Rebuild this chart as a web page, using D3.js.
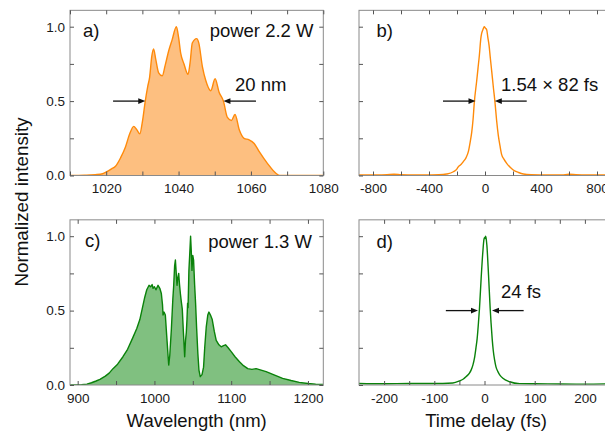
<!DOCTYPE html>
<html>
<head>
<meta charset="utf-8">
<script src="https://cdn.jsdelivr.net/npm/d3@7"></script>
<style>
  html, body { margin: 0; padding: 0; background: #fff; }
  svg { display: block; font-family: "Liberation Sans", Arial, sans-serif; }
</style>
</head>
<body>
<svg id="fig" width="605" height="431"></svg>
<script>
// ---- spectrum at 2.2 W (nm, normalized) ----
const specA_nm = [1010, 1014, 1017, 1019, 1020.2, 1021.5, 1022.5, 1024, 1025.3, 1026.5, 1027.6, 1028.4, 1029.3, 1030, 1030.8, 1031.5, 1032, 1032.6, 1033.1, 1033.7, 1034.5, 1035.5, 1036.3, 1037.3, 1038.2, 1039.4, 1040, 1040.6, 1041.5, 1042.6, 1043.2, 1043.8, 1045, 1045.6, 1046.6, 1047.5, 1048.9, 1050.1, 1051.2, 1052.4, 1053.5, 1054.6, 1055.6, 1056.8, 1058.1, 1059.5, 1060.9, 1062.3, 1064.6, 1066.9, 1068, 1080];
const specA_val = [0, 0.002, 0.006, 0.012, 0.026, 0.045, 0.06, 0.12, 0.19, 0.28, 0.33, 0.31, 0.28, 0.36, 0.5, 0.6, 0.66, 0.8, 0.85, 0.78, 0.69, 0.67, 0.74, 0.84, 0.91, 1.0, 0.93, 0.82, 0.75, 0.68, 0.76, 0.89, 0.92, 0.89, 0.73, 0.64, 0.57, 0.65, 0.56, 0.5, 0.39, 0.37, 0.41, 0.305, 0.25, 0.24, 0.215, 0.16, 0.08, 0.015, 0, 0];

// ---- autocorrelation at 2.2 W (fs, normalized) ----
const acB_fs = [-900, -700, -650, -600, -500, -400, -330, -274, -226, -200, -190, -170, -155, -135, -119, -105, -95, -85, -76, -60, -50, -40, -30, -24, -15, -5, 3, 12, 20, 29, 38, 48, 60, 71, 83, 95, 107, 119, 135, 155, 180, 202, 240, 274, 330, 450, 550, 600, 650, 750, 900];
const acB_val = [0.003, 0.006, 0.008, 0.005, 0.003, 0.004, 0.005, 0.01, 0.025, 0.045, 0.06, 0.075, 0.093, 0.12, 0.16, 0.23, 0.29, 0.38, 0.495, 0.63, 0.72, 0.81, 0.92, 0.955, 0.98, 1.0, 0.99, 0.98, 0.93, 0.875, 0.79, 0.7, 0.59, 0.495, 0.37, 0.27, 0.2, 0.14, 0.11, 0.082, 0.055, 0.037, 0.02, 0.01, 0.005, 0.003, 0.004, 0.008, 0.006, 0.004, 0.003];

// ---- spectrum at 1.3 W (nm, normalized) ----
const specC_nm = [890, 905, 912, 918, 924, 929, 936, 941, 946, 952, 959, 965, 972, 977, 981, 984, 987.4, 990, 993, 995, 997, 998.2, 1000, 1002, 1004.7, 1007, 1009, 1010.5, 1011.2, 1012.5, 1014.2, 1016, 1018.6, 1020, 1022, 1024, 1025, 1026.3, 1027.3, 1028.3, 1029.4, 1030.5, 1031.6, 1032.6, 1033.8, 1035, 1036.3, 1037.5, 1039.4, 1040.5, 1041.5, 1042.4, 1043.2, 1043.8, 1044.9, 1046, 1047.1, 1048, 1048.9, 1050, 1051, 1052.3, 1053.6, 1055, 1056.6, 1058, 1059.7, 1062, 1064, 1065.5, 1067.5, 1069.5, 1071, 1073, 1075.3, 1078, 1080.5, 1084, 1087, 1090, 1092.6, 1096, 1100, 1105, 1110.8, 1116, 1121.6, 1127, 1132.5, 1139, 1145.5, 1155, 1167, 1178, 1188.7, 1200, 1210, 1220];
const specC_val = [0, 0.002, 0.006, 0.015, 0.027, 0.038, 0.06, 0.08, 0.11, 0.14, 0.19, 0.24, 0.32, 0.38, 0.44, 0.51, 0.59, 0.64, 0.67, 0.66, 0.675, 0.65, 0.66, 0.64, 0.67, 0.65, 0.615, 0.54, 0.47, 0.49, 0.47, 0.33, 0.134, 0.2, 0.37, 0.58, 0.66, 0.8, 0.84, 0.76, 0.67, 0.72, 0.75, 0.68, 0.615, 0.56, 0.51, 0.38, 0.19, 0.3, 0.35, 0.44, 0.55, 0.52, 0.77, 0.88, 1.0, 0.9, 0.77, 0.87, 0.84, 0.68, 0.55, 0.38, 0.21, 0.1, 0.056, 0.07, 0.12, 0.25, 0.39, 0.47, 0.49, 0.47, 0.44, 0.36, 0.3, 0.27, 0.257, 0.265, 0.27, 0.25, 0.224, 0.19, 0.156, 0.13, 0.11, 0.105, 0.11, 0.1, 0.09, 0.07, 0.045, 0.03, 0.018, 0.01, 0.005, 0.003];

// ---- autocorrelation at 1.3 W (fs, normalized) ----
const acD_fs = [-250, -200, -150, -100, -83, -63, -50, -42, -36.7, -30, -26.7, -23, -20, -17, -14.7, -12, -10, -6.7, -3.3, -1, 0, 1, 2, 3, 4.7, 8, 11.3, 13, 15.3, 17.5, 20, 23, 26.7, 31, 36.7, 50, 70, 100, 150, 200, 250];
const acD_val = [0.01, 0.008, 0.01, 0.01, 0.01, 0.013, 0.027, 0.04, 0.056, 0.08, 0.1, 0.135, 0.18, 0.25, 0.31, 0.42, 0.515, 0.716, 0.895, 0.98, 0.99, 0.985, 1.0, 0.99, 0.94, 0.74, 0.515, 0.42, 0.31, 0.23, 0.17, 0.12, 0.09, 0.065, 0.045, 0.022, 0.009, 0.008, 0.007, 0.006, 0.008];

// ---- tick values ----
const xTicksA = [1010, 1020, 1030, 1040, 1050, 1060, 1070, 1080];
const xLabelsA = [1020, 1040, 1060, 1080];
const xTicksB = [-800, -600, -400, -200, 0, 200, 400, 600, 800];
const xLabelsB = [-800, -400, 0, 400, 800];
const xTicksC = [900, 950, 1000, 1050, 1100, 1150, 1200];
const xLabelsC = [900, 1000, 1100, 1200];
const xTicksD = [-200, -150, -100, -50, 0, 50, 100, 150, 200];
const xLabelsD = [-200, -100, 0, 100, 200];
const yTicks = [0, 0.25, 0.5, 0.75, 1.0];
const yLabels = [0, 0.5, 1.0];

// ---- annotations: FWHM arrows [left tail, left tip, right tip, right tail] ----
const arrowsA = [1021.9, 1030.8, 1052.4, 1061.4];
const arrowsB = [-300, -68, 70, 298];
const arrowsD = [-77, -13, 15, 78];

const svg = d3.select("#fig");
const defs = svg.append("defs");

const ORANGE = "#ff8a0a", ORANGE_FILL = "#fdbf80";
const GREEN = "#0a820a", GREEN_FILL = "#80c080";
const FRAME = "#8a8a8a";

function panel(cfg) {
  const x = d3.scaleLinear().domain(cfg.xd).range([cfg.left, cfg.right]);
  const y = d3.scaleLinear().domain([0, 1.11]).range([cfg.bottom, cfg.bottom - 1.11 * 148.8]);
  const top = y(1.11);
  const g = svg.append("g");

  const clipId = "clip-" + cfg.id;
  defs.append("clipPath").attr("id", clipId)
    .append("rect").attr("x", cfg.left).attr("y", top)
    .attr("width", cfg.right - cfg.left).attr("height", cfg.bottom - top);

  const pts = cfg.xs.map((v, i) => [v, cfg.ys[i]]);
  const plot = g.append("g").attr("clip-path", `url(#${clipId})`);
  if (cfg.fill) {
    plot.append("path")
      .attr("d", d3.area().x(d => x(d[0])).y0(y(0)).y1(d => y(d[1])).curve(cfg.curve)(pts))
      .attr("fill", cfg.fill).attr("stroke", "none");
  }
  plot.append("path")
    .attr("d", d3.line().x(d => x(d[0])).y(d => y(d[1])).curve(cfg.curve)(pts))
    .attr("fill", "none").attr("stroke", cfg.color).attr("stroke-width", 1.4)
    .attr("stroke-linejoin", "round");

  // frame
  g.append("rect").attr("x", cfg.left).attr("y", top)
    .attr("width", cfg.right - cfg.left).attr("height", cfg.bottom - top)
    .attr("fill", "none").attr("stroke", FRAME).attr("stroke-width", 1);

  const fmtX = d => cfg.xLabels.includes(d) ? String(d) : "";
  const fmtY = d => yLabels.includes(d) ? d3.format(".1f")(d) : "";

  const axB = g.append("g").attr("transform", `translate(0,${cfg.bottom})`)
    .call(d3.axisBottom(x).tickValues(cfg.xTicks).tickSize(-4).tickPadding(8).tickFormat(fmtX));
  const axT = g.append("g").attr("transform", `translate(0,${top})`)
    .call(d3.axisTop(x).tickValues(cfg.xTicks).tickSize(-4).tickFormat(""));
  const axL = g.append("g").attr("transform", `translate(${cfg.left},0)`)
    .call(d3.axisLeft(y).tickValues(yTicks).tickSize(-4).tickPadding(5)
      .tickFormat(cfg.yText ? fmtY : ""));
  const axR = g.append("g").attr("transform", `translate(${cfg.right},0)`)
    .call(d3.axisRight(y).tickValues(yTicks).tickSize(-4).tickFormat(""));
  [axB, axT, axL, axR].forEach(a => {
    a.select(".domain").remove();
    a.selectAll(".tick line").attr("stroke", "#555");
    a.selectAll(".tick text").attr("fill", "#1a1a1a")
      .style("font-family", "'Liberation Sans', Arial, sans-serif")
      .style("font-size", "13.5px");
  });

  return { x, y, g };
}

function arrows(p, vals, yv) {
  const yy = p.y(yv);
  const pairs = [[vals[0], vals[1]], [vals[3], vals[2]]];
  pairs.forEach(([from, to]) => {
    const x0 = p.x(from), x1 = p.x(to);
    const dir = Math.sign(x1 - x0);
    p.g.append("line").attr("x1", x0).attr("x2", x1 - dir * 5).attr("y1", yy).attr("y2", yy)
      .attr("stroke", "#111").attr("stroke-width", 1.3);
    p.g.append("path")
      .attr("d", `M${x1},${yy} L${x1 - dir * 7},${yy - 2.8} L${x1 - dir * 7},${yy + 2.8} Z`)
      .attr("fill", "#111");
  });
}

function label(x, y, txt, anchor, size) {
  svg.append("text").attr("x", x).attr("y", y).attr("text-anchor", anchor || "start")
    .attr("fill", "#111").style("font-size", (size || 18.5) + "px").text(txt);
}

const pA = panel({ id: "a", left: 70, right: 323.3, bottom: 175.5, xd: [1010, 1080],
  xs: specA_nm, ys: specA_val, color: ORANGE, fill: ORANGE_FILL, curve: d3.curveMonotoneX,
  xTicks: xTicksA, xLabels: xLabelsA, yText: true });
const pB = panel({ id: "b", left: 359, right: 611, bottom: 175.5, xd: [-900, 900],
  xs: acB_fs, ys: acB_val, color: ORANGE, fill: null, curve: d3.curveMonotoneX,
  xTicks: xTicksB, xLabels: xLabelsB, yText: false });
const pC = panel({ id: "c", left: 70, right: 323.3, bottom: 385, xd: [890, 1220],
  xs: specC_nm, ys: specC_val, color: GREEN, fill: GREEN_FILL, curve: d3.curveLinear,
  xTicks: xTicksC, xLabels: xLabelsC, yText: true });
const pD = panel({ id: "d", left: 359, right: 610, bottom: 385, xd: [-250, 250],
  xs: acD_fs, ys: acD_val, color: GREEN, fill: null, curve: d3.curveMonotoneX,
  xTicks: xTicksD, xLabels: xLabelsD, yText: false });

arrows(pA, arrowsA, 0.5);
arrows(pB, arrowsB, 0.5);
arrows(pD, arrowsD, 0.5);

label(83, 37, "a)");
label(313.5, 37, "power 2.2 W", "end");
label(235, 90.5, "20 nm");
label(376.5, 37, "b)");
label(501, 90.5, "1.54 × 82 fs");
label(85, 247, "c)");
label(312, 247.5, "power 1.3 W", "end");
label(376.5, 247.5, "d)");
label(501, 298, "24 fs");

// axis titles
label(196.7, 427, "Wavelength (nm)", "middle");
label(486, 427, "Time delay (fs)", "middle");
svg.append("text").attr("transform", "translate(28,202) rotate(-90)")
  .attr("text-anchor", "middle").attr("fill", "#111").style("font-size", "18.8px")
  .text("Normalized intensity");
</script>
</body>
</html>
